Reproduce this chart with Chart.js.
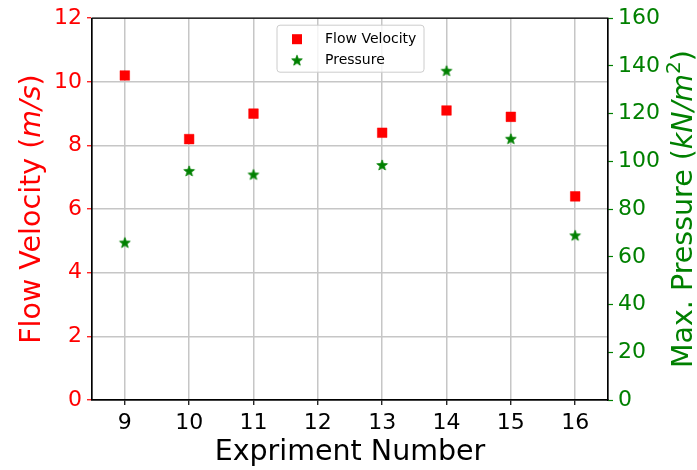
<!DOCTYPE html>
<html><head><meta charset="utf-8">
<script src="https://cdn.jsdelivr.net/npm/chart.js@4/dist/chart.umd.min.js"></script>
<style>html,body{margin:0;padding:0;background:#fff}canvas{display:block}</style>
</head><body>
<div style="width:697px;height:470px"><canvas id="c" width="697" height="470"></canvas></div>
<script>
// ---- data ----
const experiments = [9, 10, 11, 13, 14, 15, 16];
const flowVelocity = [10.2, 8.2, 9.0, 8.4, 9.1, 8.9, 6.4];
const maxPressure = [66, 96, 94.5, 98.5, 138, 109.5, 69];
const xTickValues = [9, 10, 11, 12, 13, 14, 15, 16];
const leftTickValues = [0, 2, 4, 6, 8, 10, 12];
const rightTickValues = [0, 20, 40, 60, 80, 100, 120, 140, 160];
const seriesNames = ['Flow Velocity', 'Pressure'];
const xTitle = 'Expriment Number';

const RED = '#ff0000', GREEN = '#008000', GRID = '#c6c6c6';
const FONT = "'DejaVu Sans', sans-serif";

function makeStar(color, r) {
  const s = Math.ceil(r * 2 + 2);
  const cv = document.createElement('canvas');
  cv.width = s; cv.height = s;
  const c = cv.getContext('2d');
  const cx = s / 2, cy = s / 2 + 0.5, ri = r * 0.42;
  c.beginPath();
  for (let i = 0; i < 10; i++) {
    const a = -Math.PI / 2 + i * Math.PI / 5;
    const rr = i % 2 === 0 ? r : ri;
    const px = cx + rr * Math.cos(a), py = cy + rr * Math.sin(a);
    i === 0 ? c.moveTo(px, py) : c.lineTo(px, py);
  }
  c.closePath();
  c.fillStyle = color; c.fill();
  c.lineWidth = 0.8; c.strokeStyle = color; c.stroke();
  return cv;
}
const starImg = makeStar(GREEN, 5.6);

function drawSegs(ctx, segs, x, y, rot) {
  ctx.save();
  ctx.translate(x, y);
  ctx.rotate(rot);
  let total = 0;
  segs.forEach(s => { ctx.font = s.font; s.w = ctx.measureText(s.t).width; total += s.w; });
  let cx = -total / 2;
  ctx.textBaseline = 'alphabetic';
  ctx.textAlign = 'left';
  segs.forEach(s => {
    ctx.font = s.font; ctx.fillStyle = s.color;
    ctx.fillText(s.t, cx, -(s.dy || 0));
    cx += s.w;
  });
  ctx.restore();
}

const decoPlugin = {
  id: 'deco',
  beforeDatasetsDraw(chart) {
    const {ctx, chartArea: a} = chart;
    ctx.save();
    ctx.strokeStyle = '#000'; ctx.lineWidth = 1.2;
    ctx.strokeRect(a.left, a.top, a.right - a.left, a.bottom - a.top);
    ctx.restore();
  },
  afterDraw(chart) {
    const {ctx, chartArea: a} = chart;
    const midY = (a.top + a.bottom) / 2;
    const f = '28.5px ' + FONT, fi = 'italic 28.5px ' + FONT, fs = '20px ' + FONT;
    // x title
    drawSegs(ctx, [{t: xTitle, font: f, color: '#000'}], (a.left + a.right) / 2, a.bottom + 60, 0);
    // left title
    drawSegs(ctx, [
      {t: 'Flow Velocity (', font: f, color: RED},
      {t: 'm/s', font: fi, color: RED},
      {t: ')', font: f, color: RED}
    ], a.left - 52, midY, -Math.PI / 2);
    // right title
    drawSegs(ctx, [
      {t: 'Max. Pressure (', font: f, color: GREEN},
      {t: 'kN/m', font: fi, color: GREEN},
      {t: '2', font: fs, color: GREEN, dy: 12},
      {t: ')', font: f, color: GREEN}
    ], a.right + 84, midY, -Math.PI / 2);

    // legend box
    const bx = a.left + 185, by = a.top + 7, bw = 147, bh = 47, r = 3;
    ctx.save();
    ctx.beginPath();
    ctx.moveTo(bx + r, by); ctx.lineTo(bx + bw - r, by); ctx.arcTo(bx + bw, by, bx + bw, by + r, r);
    ctx.lineTo(bx + bw, by + bh - r); ctx.arcTo(bx + bw, by + bh, bx + bw - r, by + bh, r);
    ctx.lineTo(bx + r, by + bh); ctx.arcTo(bx, by + bh, bx, by + bh - r, r);
    ctx.lineTo(bx, by + r); ctx.arcTo(bx, by, bx + r, by, r);
    ctx.closePath();
    ctx.fillStyle = 'rgba(255,255,255,0.8)'; ctx.fill();
    ctx.strokeStyle = '#cccccc'; ctx.lineWidth = 1; ctx.stroke();
    // entries
    const mx = bx + 20, tx = bx + 48;
    const y1 = by + 14, y2 = by + 35;
    ctx.fillStyle = RED; ctx.fillRect(mx - 5, y1 - 5, 10, 10);
    ctx.drawImage(starImg, mx - starImg.width / 2, y2 - starImg.height / 2);
    ctx.fillStyle = '#000'; ctx.font = '14px ' + FONT; ctx.textBaseline = 'middle'; ctx.textAlign = 'left';
    ctx.fillText(seriesNames[0], tx, y1);
    ctx.fillText(seriesNames[1], tx, y2);
    ctx.restore();
  }
};

new Chart(document.getElementById('c'), {
  type: 'scatter',
  data: {
    datasets: [
      {
        label: seriesNames[0],
        data: experiments.map((x, i) => ({x, y: flowVelocity[i]})),
        yAxisID: 'yL',
        pointStyle: 'rect', pointRadius: 6.8, pointHoverRadius: 6.8,
        backgroundColor: RED, borderColor: RED, borderWidth: 0.5
      },
      {
        label: seriesNames[1],
        data: experiments.map((x, i) => ({x, y: maxPressure[i]})),
        yAxisID: 'yR',
        pointStyle: starImg, pointRadius: 6,
        backgroundColor: GREEN, borderColor: GREEN
      }
    ]
  },
  options: {
    responsive: false, animation: false, devicePixelRatio: 1,
    layout: {padding: {top: 16, left: 0, right: 0, bottom: 0}},
    plugins: {legend: {display: false}, tooltip: {enabled: false}},
    scales: {
      x: {
        type: 'linear', position: 'bottom', min: 8.49, max: 16.51,
        afterBuildTicks: s => { s.ticks = xTickValues.map(v => ({value: v})); },
        afterFit: s => { s.height = 70; },
        ticks: {color: '#000', font: {family: FONT, size: 22}, padding: 5, maxRotation: 0,
                callback: v => String(v)},
        grid: {color: GRID, lineWidth: 1.5, tickColor: '#000', tickLength: 5, tickWidth: 1.2},
        border: {display: true, color: '#000', width: 1.2}
      },
      yL: {
        type: 'linear', position: 'left', min: 0, max: 12,
        afterBuildTicks: s => { s.ticks = leftTickValues.map(v => ({value: v})); },
        afterFit: s => { s.width = 92; },
        ticks: {color: RED, font: {family: FONT, size: 22}, padding: 5},
        grid: {color: GRID, lineWidth: 1.5, tickColor: RED, tickLength: 5, tickWidth: 1.2},
        border: {display: true, color: '#000', width: 1.2}
      },
      yR: {
        type: 'linear', position: 'right', min: 0, max: 160,
        afterBuildTicks: s => { s.ticks = rightTickValues.map(v => ({value: v})); },
        afterFit: s => { s.width = 89; },
        ticks: {color: GREEN, font: {family: FONT, size: 22}, padding: 5},
        grid: {drawOnChartArea: false, tickColor: GREEN, tickLength: 5, tickWidth: 1.2},
        border: {display: true, color: '#000', width: 1.2}
      }
    }
  },
  plugins: [decoPlugin]
});
</script>
</body></html>
